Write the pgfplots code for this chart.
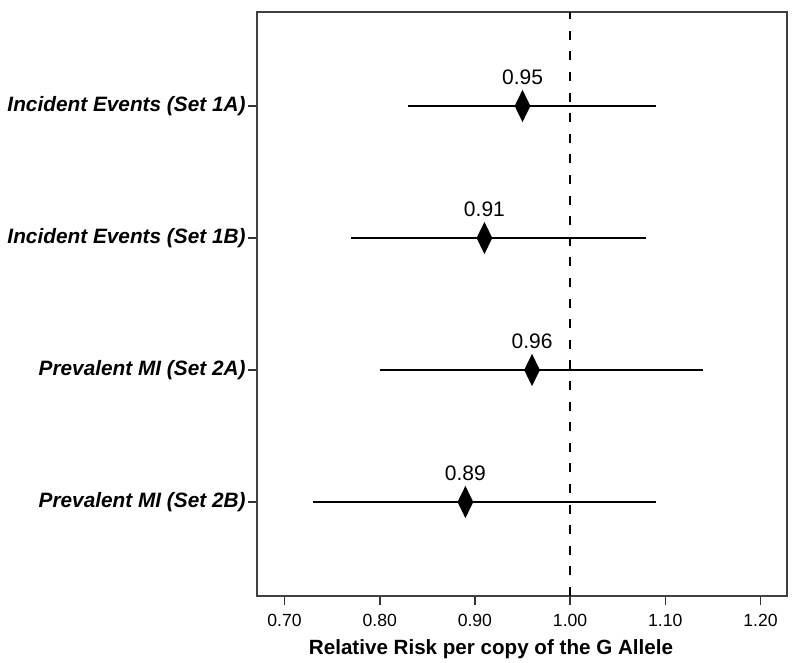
\documentclass[border=0pt]{standalone}
\usepackage{pgfplots}
\pgfplotsset{compat=1.18}
\usepackage{pgfplotstable}
\usepackage{fontspec}
\setmainfont{Liberation Sans}

% y = row (4 = top), x = relative risk, lower / upper CI as errors
\pgfplotstableread{
y  rr    em    ep    lab
4  0.95  0.12  0.14  0.95
3  0.91  0.14  0.17  0.91
2  0.96  0.16  0.18  0.96
1  0.89  0.16  0.20  0.89
}\rrdata

\begin{document}
\begin{tikzpicture}
\path[use as bounding box] (-128.5pt,-33.5pt) rectangle (271.5pt,298pt);
\begin{axis}[
  scale only axis,
  width=265pt, height=292pt,
  xmin=0.6711, xmax=1.2278,
  ymin=0.288, ymax=4.712,
  xtick={0.7,0.8,0.9,1.0,1.1,1.2},
  xticklabels={0.70,0.80,0.90,1.00,1.10,1.20},
  ytick={1,2,3,4},
  yticklabels={Prevalent MI (Set 2B),Prevalent MI (Set 2A),Incident Events (Set 1B),Incident Events (Set 1A)},
  xtick pos=bottom, ytick pos=left,
  tick align=outside,
  major tick length=4.5pt,
  axis line style={black!75, line width=0.9pt},
  tick style={black!80, line width=0.8pt},
  /pgf/number format/assume math mode=true,
  xticklabel style={font=\fontsize{8.8}{10}\selectfont, yshift=-1pt},
  yticklabel style={font=\fontsize{10.4}{12}\selectfont\bfseries\itshape, inner sep=1pt},
  xlabel={Relative Risk per copy of the G Allele},
  xlabel style={font=\fontsize{10.3}{12}\selectfont\bfseries,
    at={(axis description cs:0.4415,0)}, anchor=base, yshift=-29.5pt},
  clip=false,
]
% reference line at RR = 1
\addplot[black, line width=0.8pt, dash pattern=on 4.5pt off 5.8pt] coordinates {(1.0,0.288) (1.0,4.712)};

\addplot[black, line width=0.75pt, only marks,
  mark=diamond*, mark size=7.2pt, mark options={xscale=0.65, fill=black},
  error bars/.cd, x dir=both, x explicit, error mark=none,
  error bar style={black, line width=0.75pt},
] table[x=rr, y=y, x error minus=em, x error plus=ep] {\rrdata};

\addplot[only marks, mark=none,
  nodes near coords, point meta=explicit symbolic,
  every node near coord/.append style={anchor=south, inner sep=0pt, yshift=10.3pt,
    font=\fontsize{10.5}{12}\selectfont, black},
] table[x=rr, y=y, meta=lab] {\rrdata};
\end{axis}
\end{tikzpicture}
\end{document}
